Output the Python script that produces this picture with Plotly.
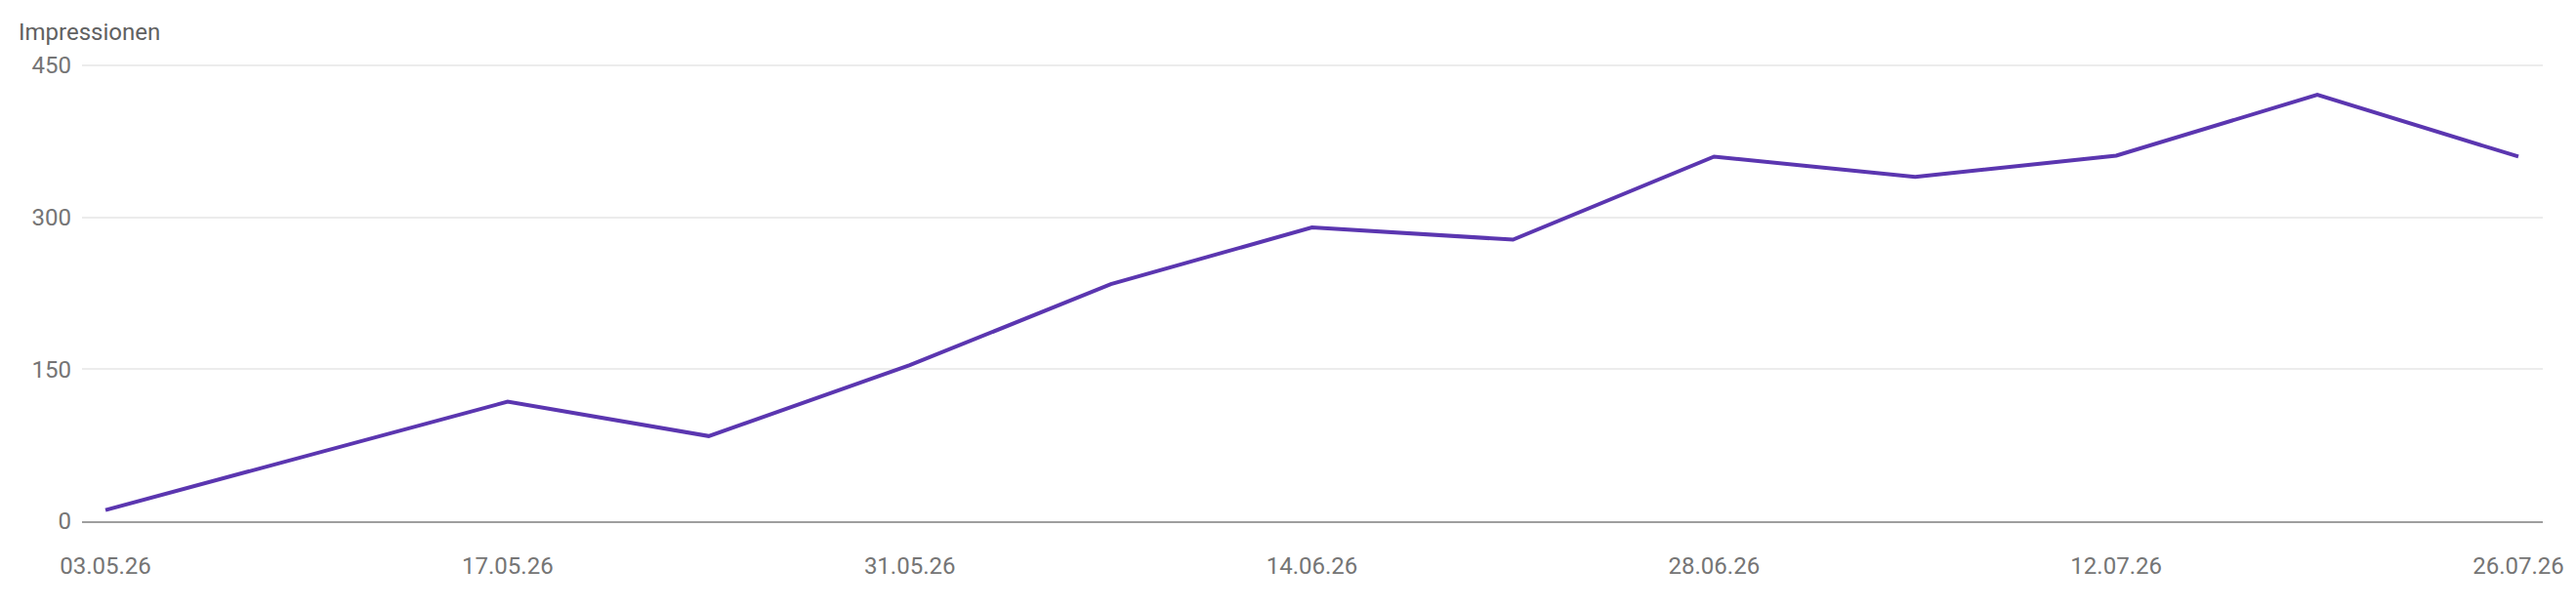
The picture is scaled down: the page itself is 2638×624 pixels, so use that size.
import plotly.graph_objects as go

# data (weekly impressions)
weeks = ["2026-05-03", "2026-05-10", "2026-05-17", "2026-05-24", "2026-05-31",
         "2026-06-07", "2026-06-14", "2026-06-21", "2026-06-28", "2026-07-05",
         "2026-07-12", "2026-07-19", "2026-07-26"]
impressions = [11, 65, 118, 84, 154, 234, 290, 278, 360, 340, 361, 421, 360]

tick_dates = ["2026-05-03", "2026-05-17", "2026-05-31", "2026-06-14",
              "2026-06-28", "2026-07-12", "2026-07-26"]
tick_labels = ["03.05.26", "17.05.26", "31.05.26", "14.06.26",
               "28.06.26", "12.07.26", "26.07.26"]
y_ticks = [0, 150, 300, 450]

LINE_COLOR = "#5b36b0"
TEXT_GRAY = "#757575"

# the page body keeps its default 8px margin, so the figure is 8px smaller
W, H = 2630, 616

fig = go.Figure()
fig.add_trace(go.Scatter(x=weeks, y=impressions, mode="lines",
                         line=dict(color=LINE_COLOR, width=4), hoverinfo="skip"))

fig.update_layout(
    width=W, height=H,
    margin=dict(l=76, r=32, t=57, b=90),
    paper_bgcolor="white", plot_bgcolor="white",
    showlegend=False,
    font=dict(family="Roboto", size=24, color=TEXT_GRAY),
    title=dict(text="Impressionen", x=11 / W, xanchor="left",
               y=1 - 25 / H, yanchor="middle", yref="container",
               font=dict(family="Roboto", size=24, color="#616161")),
)

fig.update_xaxes(
    type="date",
    range=["2026-05-02 04:24", "2026-07-26 20:24"],
    tickvals=tick_dates, ticktext=tick_labels,
    showgrid=False, zeroline=False,
    showline=True, linecolor="#9e9e9e", linewidth=2,
    ticks="", ticklabelstandoff=23,
    tickfont=dict(family="Roboto", size=24, color=TEXT_GRAY),
)
# range topped a little above 450 so the top gridline is drawn
fig.update_yaxes(
    range=[0, 452], tickvals=y_ticks,
    showgrid=True, gridcolor="#ececec", gridwidth=1.5,
    zeroline=False, showline=False,
    ticks="", ticklabelstandoff=10,
    tickfont=dict(family="Roboto", size=24, color=TEXT_GRAY),
)

fig.write_html("out.html")
